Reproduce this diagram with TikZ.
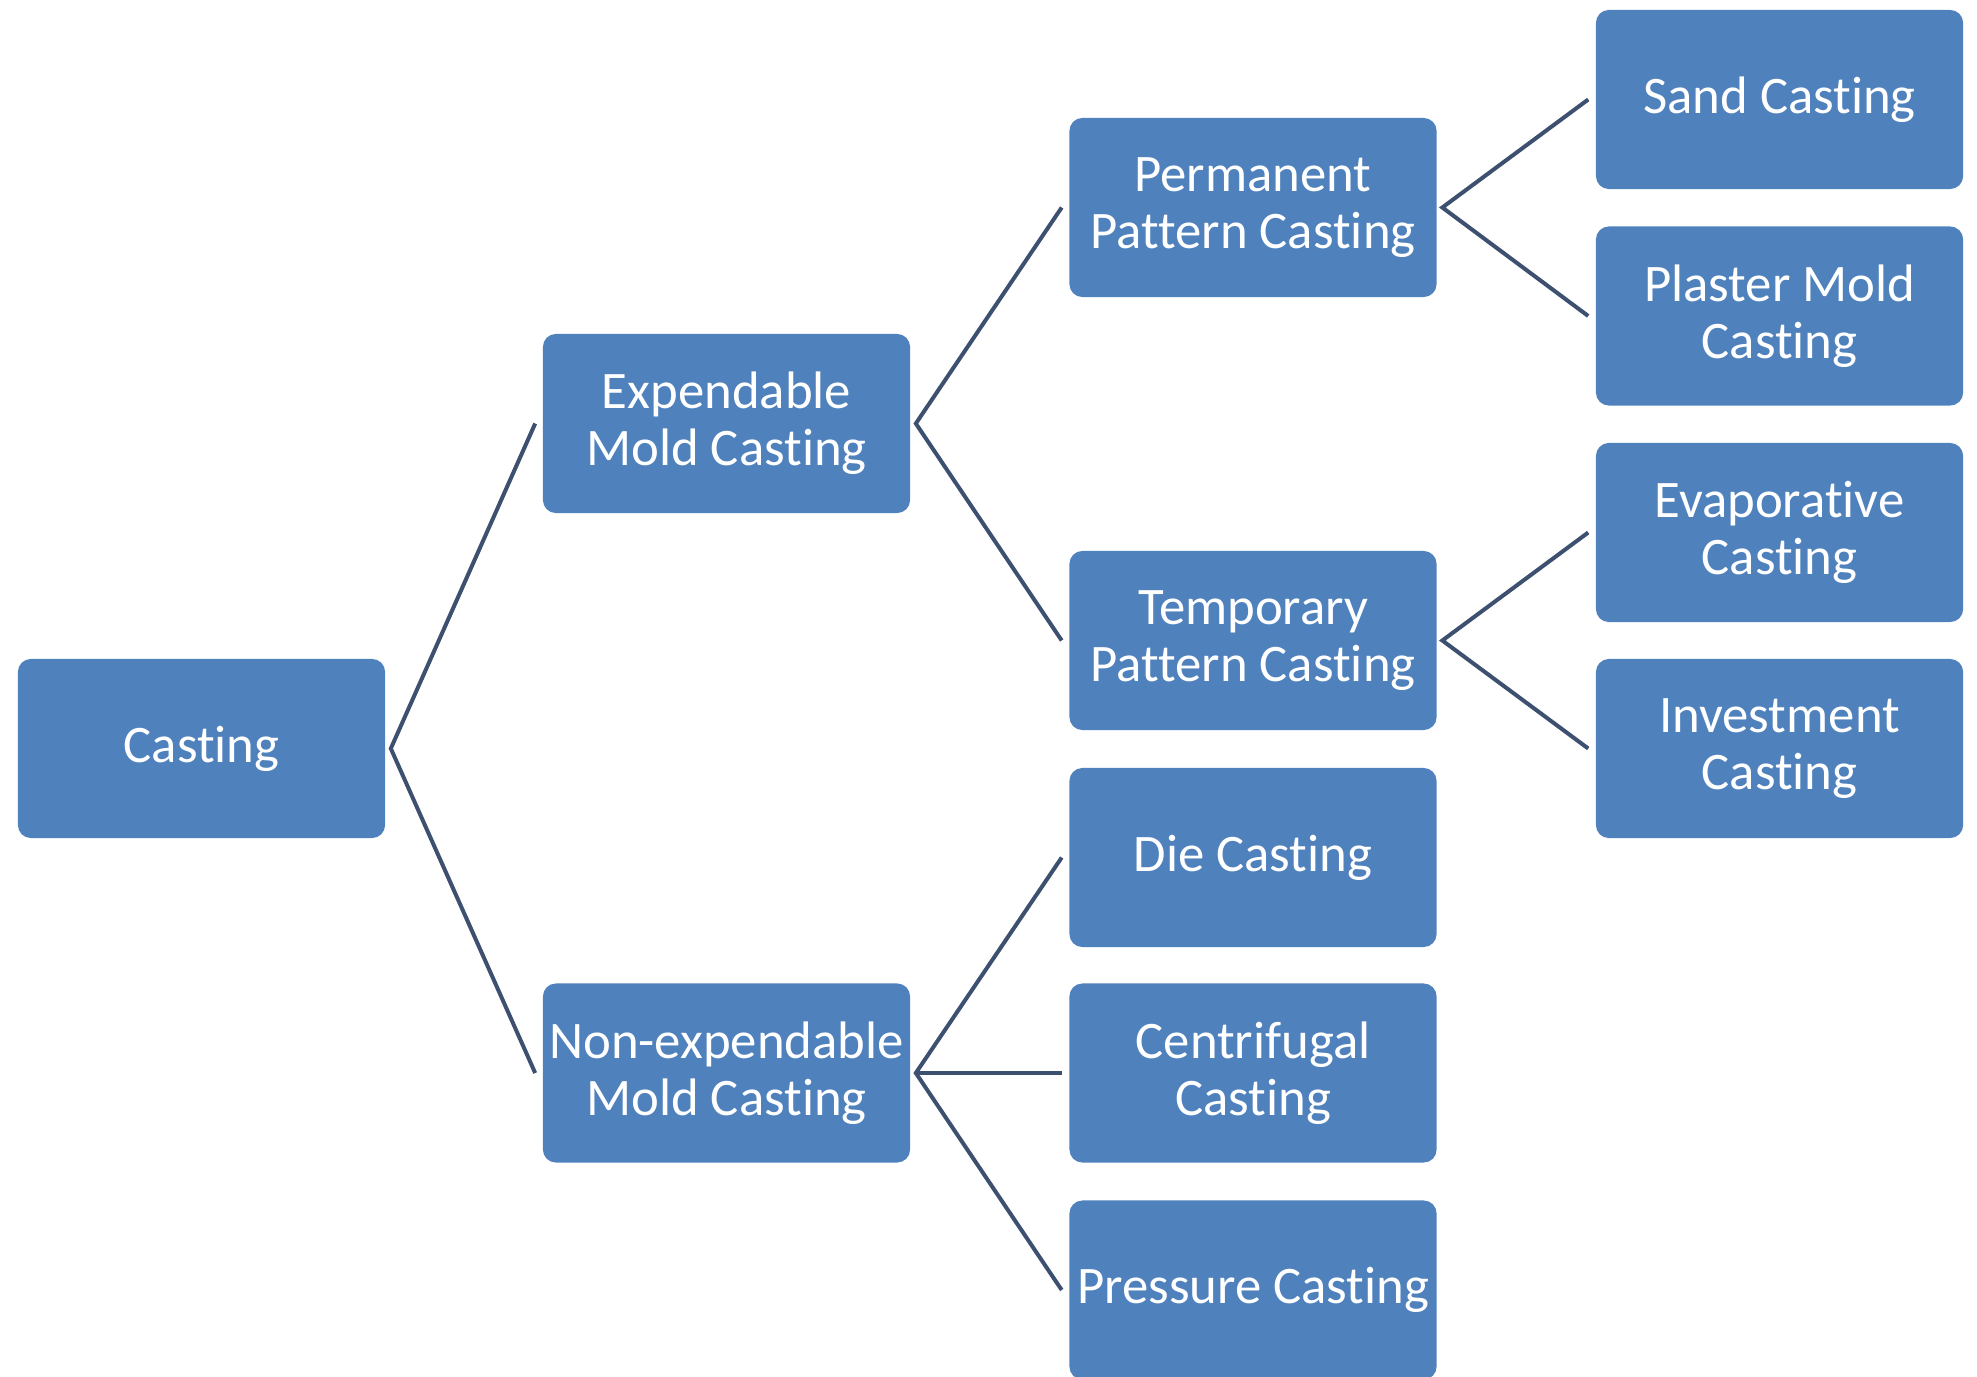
\documentclass[tikz,border=0pt]{standalone}
\usepackage{fontspec}
\setmainfont{Carlito}[Ligatures=NoCommon, Contextuals=NoAlternate, RawFeature={-dlig;-clig}]
\definecolor{boxblue}{HTML}{4F81BD}
\definecolor{linkcol}{HTML}{3E5070}
\begin{document}
\begin{tikzpicture}[x=0.01cm,y=-0.01cm,
  catbox/.style={rectangle, rounded corners=0.13cm, fill=boxblue, draw=none,
    minimum width=3.67cm, minimum height=1.79cm, inner sep=0pt,
    text=white, align=center, font=\fontsize{15}{16.2}\selectfont},
  link/.style={draw=linkcol, line width=0.04cm, line join=miter}]
\useasboundingbox (0,0) rectangle (1977,1376);
\node[catbox] (cast) at (201.5,748.5) {Casting};
\node[catbox] (exp) at (726.5,423.5) {Expendable\\Mold Casting};
\node[catbox] (nonexp) at (726.5,1073) {Non-expendable\\Mold Casting};
\node[catbox] (perm) at (1253,207.5) {Permanent\\Pattern Casting};
\node[catbox] (temp) at (1253,640.5) {Temporary\\Pattern Casting};
\node[catbox] (die) at (1253,857.5) {Die Casting};
\node[catbox] (cent) at (1253,1073) {Centrifugal\\Casting};
\node[catbox] (press) at (1253,1290) {Pressure Casting};
\node[catbox] (sand) at (1779.5,99.5) {Sand Casting};
\node[catbox] (plaster) at (1779.5,316) {Plaster Mold\\Casting};
\node[catbox] (evap) at (1779.5,532.5) {Evaporative\\Casting};
\node[catbox] (invest) at (1779.5,748.5) {Investment\\Casting};
% junction points just right of each parent
\coordinate (jcast) at ([xshift=0.05cm]cast.east);
\coordinate (jexp) at ([xshift=0.05cm]exp.east);
\coordinate (jnon) at ([xshift=0.05cm]nonexp.east);
\coordinate (jperm) at ([xshift=0.05cm]perm.east);
\coordinate (jtemp) at ([xshift=0.05cm]temp.east);
% end points just left of each child
\foreach \c in {exp,nonexp,perm,temp,die,cent,press,sand,plaster,evap,invest}
  \coordinate (e\c) at ([xshift=-0.07cm]\c.west);
\draw[link] (eexp) -- (jcast) -- (enonexp);
\draw[link] (eperm) -- (jexp) -- (etemp);
\draw[link] (edie) -- (jnon) -- (epress);
\draw[link] (jnon) -- (ecent);
\draw[link] (esand) -- (jperm) -- (eplaster);
\draw[link] (eevap) -- (jtemp) -- (einvest);
\end{tikzpicture}
\end{document}
